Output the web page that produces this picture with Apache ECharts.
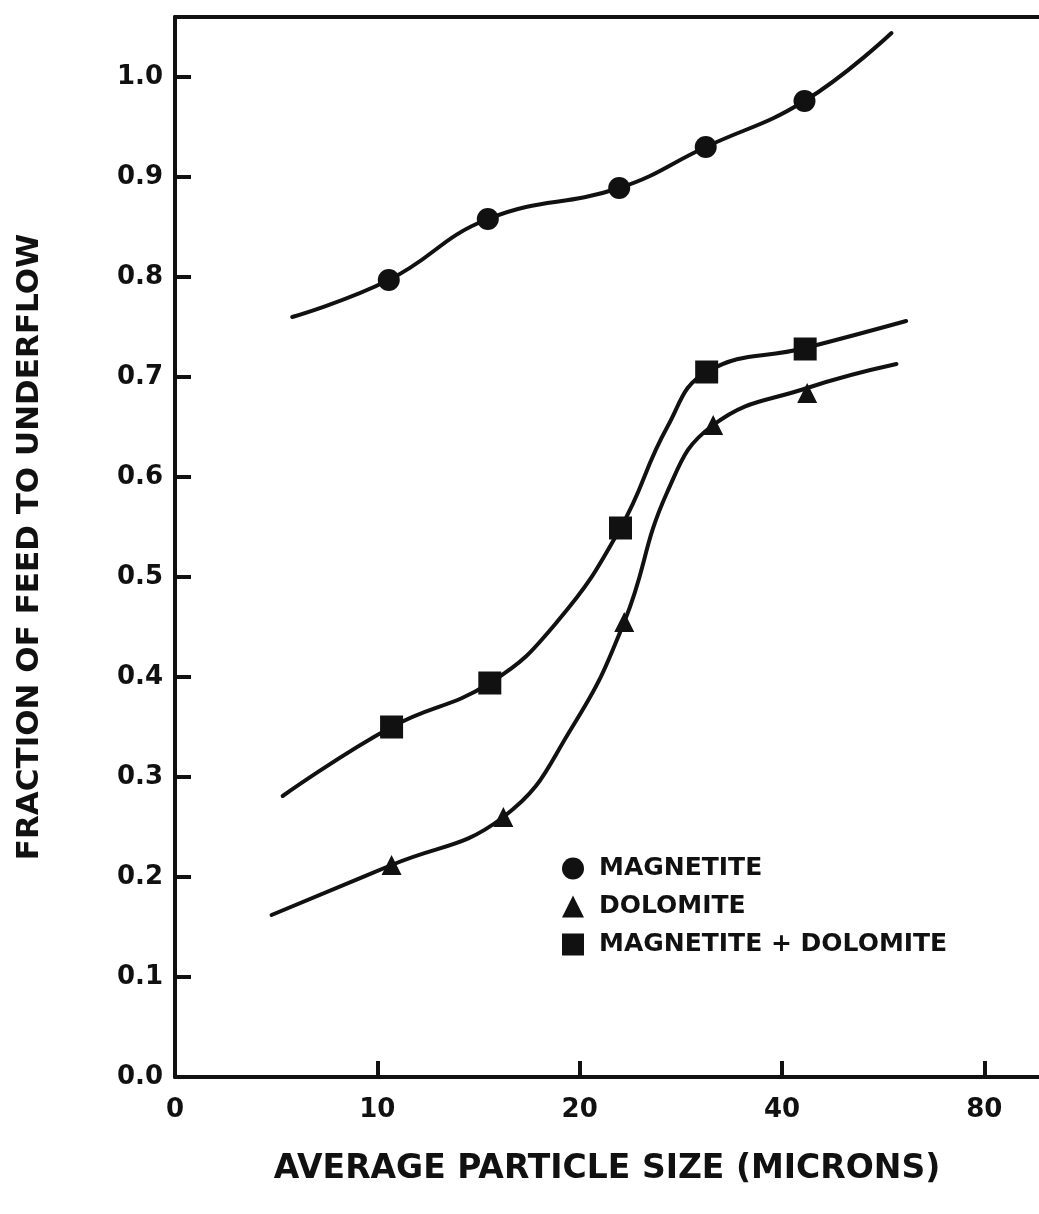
<!DOCTYPE html>
<html>
<head>
<meta charset="utf-8">
<script src="https://cdn.jsdelivr.net/npm/echarts@6/dist/echarts.min.js"></script>
<style>
  html, body { margin: 0; padding: 0; background: #fff; }
  #main { width: 1039px; height: 1214px; }
</style>
</head>
<body>
<div id="main"></div>
<script>
// measured points: particle size (microns) and fraction of feed to underflow
var magnetiteSize = [10.4, 14.6, 22.9, 30.8, 43.2];
var magnetiteFrac = [0.797, 0.858, 0.889, 0.930, 0.976];
var dolomiteSize = [10.5, 15.4, 23.3, 31.6, 43.6];
var dolomiteFrac = [0.212, 0.260, 0.455, 0.652, 0.684];
var mixSize = [10.5, 14.7, 23.0, 30.9, 43.3];
var mixFrac = [0.350, 0.394, 0.549, 0.705, 0.728];

// the hand drawn curves
var magnetiteCurveSize = [7.47, 10.4, 14.6, 22.9, 30.8, 43.2, 58.2];
var magnetiteCurveFrac = [0.760, 0.797, 0.858, 0.889, 0.930, 0.976, 1.044];
var dolomiteCurveSize = [6.96, 10.5, 15.4, 19.5, 23.3, 27.0, 31.6, 43.6, 59.2];
var dolomiteCurveFrac = [0.162, 0.212, 0.260, 0.350, 0.455, 0.585, 0.652, 0.689, 0.713];
var mixCurveSize = [7.23, 10.5, 14.7, 18.5, 23.0, 27.0, 30.9, 43.3, 61.2];
var mixCurveFrac = [0.281, 0.350, 0.394, 0.455, 0.549, 0.650, 0.705, 0.729, 0.756];

var xTickLabels = ['0', '10', '20', '40', '80'];
var seriesNames = ['MAGNETITE', 'DOLOMITE', 'MAGNETITE + DOLOMITE'];

// x axis is logarithmic (doubling per division), origin at 5 microns
function toAxis(size) { return Math.log2(size / 5); }
function pairs(xs, ys) {
  return xs.map(function (x, i) { return [toAxis(x), ys[i]]; });
}

var font = 'DejaVu Sans';
var ink = '#111';
var myChart = echarts.init(document.getElementById('main'));

function curve(name, xs, ys) {
  return {
    name: name, type: 'line', data: pairs(xs, ys),
    smooth: 0.45, showSymbol: false, silent: true,
    lineStyle: { color: ink, width: 4, cap: 'round' }, z: 2
  };
}
function marks(name, symbol, size, xs, ys) {
  return {
    name: name, type: 'scatter', data: pairs(xs, ys),
    symbol: symbol, symbolSize: size,
    itemStyle: { color: ink, opacity: 1 }, z: 3
  };
}

var option = {
  animation: false,
  backgroundColor: '#fff',
  grid: { left: 175, top: 17, right: 0, bottom: 137 },
  legend: {
    data: seriesNames,
    orient: 'vertical',
    left: 557, top: 851,
    itemWidth: 22, itemHeight: 22, itemGap: 13,
    itemStyle: { opacity: 1 },
    textStyle: { fontFamily: font, fontWeight: 'bold', fontSize: 25, color: ink, padding: [0, 0, 0, 10] }
  },
  xAxis: [{
    type: 'value', min: 0, max: 4.27, interval: 1,
    name: 'AVERAGE PARTICLE SIZE (MICRONS)',
    nameLocation: 'middle', nameGap: 76,
    nameTextStyle: { fontFamily: font, fontWeight: 'bold', fontSize: 33, color: ink },
    axisLine: { lineStyle: { color: ink, width: 4 } },
    axisTick: { inside: true, length: 16, lineStyle: { color: ink, width: 4 } },
    axisLabel: {
      margin: 20, showMaxLabel: false,
      fontFamily: font, fontWeight: 'bold', fontSize: 26, color: ink,
      formatter: function (v) { return xTickLabels[Math.round(v)] || ''; }
    },
    splitLine: { show: false }
  }, {
    type: 'value', min: 0, max: 4.27, position: 'top',
    axisLine: { show: true, lineStyle: { color: ink, width: 4 } },
    axisTick: { show: false }, axisLabel: { show: false }, splitLine: { show: false }
  }],
  yAxis: {
    type: 'value', min: 0, max: 1.06, interval: 0.1,
    name: 'FRACTION OF FEED TO UNDERFLOW',
    nameLocation: 'middle', nameGap: 130, nameRotate: 90,
    nameTextStyle: { fontFamily: font, fontWeight: 'bold', fontSize: 31, color: ink },
    axisLine: { show: true, lineStyle: { color: ink, width: 4 } },
    axisTick: { show: true, inside: true, length: 16, lineStyle: { color: ink, width: 4 } },
    axisLabel: {
      margin: 12, showMaxLabel: false,
      fontFamily: font, fontWeight: 'bold', fontSize: 26, color: ink,
      formatter: function (v) { return v.toFixed(1); }
    },
    splitLine: { show: false }
  },
  series: [
    curve('magnetite curve', magnetiteCurveSize, magnetiteCurveFrac),
    curve('dolomite curve', dolomiteCurveSize, dolomiteCurveFrac),
    curve('mix curve', mixCurveSize, mixCurveFrac),
    marks(seriesNames[0], 'circle', 22, magnetiteSize, magnetiteFrac),
    marks(seriesNames[1], 'triangle', 20, dolomiteSize, dolomiteFrac),
    marks(seriesNames[2], 'rect', 23, mixSize, mixFrac)
  ]
};
myChart.setOption(option);
</script>
</body>
</html>
